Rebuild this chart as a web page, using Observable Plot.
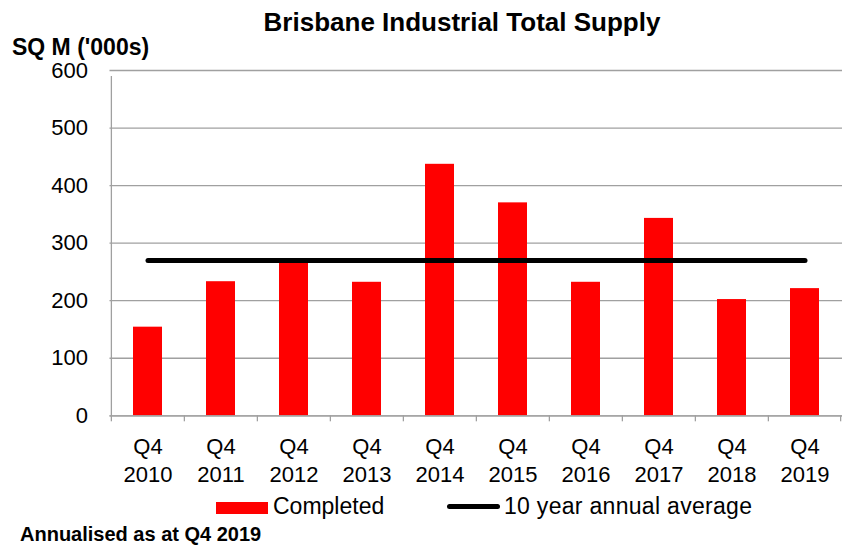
<!DOCTYPE html>
<html>
<head>
<meta charset="utf-8">
<script src="https://cdn.jsdelivr.net/npm/d3@7"></script>
<script src="https://cdn.jsdelivr.net/npm/@observablehq/plot@0.6"></script>
<style>
  body { margin: 0; background: #fff; font-family: "Liberation Sans", Arial, sans-serif; }
  #wrap { position: relative; width: 842px; height: 545px; overflow: hidden; }
  #chart { position: absolute; left: 0; top: 0; }
  .txt { position: absolute; line-height: 1; white-space: nowrap; color: #000; }
</style>
</head>
<body>
<div id="wrap">
  <div id="chart"></div>
  <div class="txt" id="title" style="left:0;width:924px;text-align:center;top:9px;font-size:26px;font-weight:bold;">Brisbane Industrial Total Supply</div>
  <div class="txt" style="left:12px;top:36px;font-size:23px;font-weight:bold;">SQ M ('000s)</div>
  <div class="txt" style="left:216px;top:502px;width:52px;height:12px;background:#ff0000;"></div>
  <div class="txt" style="left:273px;top:495px;font-size:23px;">Completed</div>
  <div class="txt" style="left:447px;top:504px;width:53px;height:5px;background:#000;border-radius:3px;"></div>
  <div class="txt" style="left:504px;top:495px;font-size:23px;letter-spacing:0.3px;">10 year annual average</div>
  <div class="txt" style="left:20px;top:524px;font-size:20px;font-weight:bold;">Annualised as at Q4 2019</div>
</div>
<script>
const years = ["2010","2011","2012","2013","2014","2015","2016","2017","2018","2019"];
const completed = [154, 233, 268, 232, 437, 370, 232, 343, 202, 221];
const average10yr = [270, 270, 270, 270, 270, 270, 270, 270, 270, 270];
const yTicks = [0, 100, 200, 300, 400, 500, 600];
const quarterLabel = "Q4";

const data = years.map((y, i) => ({year: y, completed: completed[i], average: average10yr[i]}));

const W = 842, H = 490, ML = 109.5, MR = 0, MT = 70, MB = 74.7;
const step = (W - ML - MR) / years.length;

const plot = Plot.plot({
  width: W,
  height: H,
  marginLeft: ML,
  marginRight: MR,
  marginTop: MT,
  marginBottom: MB,
  style: {fontFamily: "'Liberation Sans', Arial, sans-serif", fontSize: "22px", color: "#000", background: "#fff"},
  x: {domain: years, padding: 0, label: null},
  y: {domain: [0, 600], label: null},
  marks: [
    Plot.gridY(yTicks, {stroke: "#a0a0a0", strokeOpacity: 1, strokeWidth: 1.3}),
    Plot.axisY(yTicks, {tickSize: 0, tickPadding: 22, fontSize: 22, label: null}),
    Plot.axisX({tickSize: 0, tickPadding: 18, fontSize: 22, lineHeight: 1.28, tickFormat: d => quarterLabel + "\n" + d, label: null}),
    Plot.barY(data, {x: "year", y: "completed", fill: "#ff0000", insetLeft: 22, insetRight: 22}),
    Plot.ruleY([0], {stroke: "#a0a0a0", strokeWidth: 1.3}),
    Plot.ruleX(years, {x: d => d, y1: 0, y2: 0, insetBottom: -6, dx: -step / 2, stroke: "#a0a0a0", strokeWidth: 1.3}),
    Plot.ruleX([years[years.length - 1]], {x: d => d, y1: 0, y2: 0, insetBottom: -6, dx: step / 2 - 1, stroke: "#a0a0a0", strokeWidth: 1.3}),
    Plot.ruleX([years[0]], {x: d => d, y1: 0, y2: 600, insetBottom: -6, dx: -step / 2, stroke: "#a0a0a0", strokeWidth: 1.3}),
    Plot.lineY(data, {x: "year", y: "average", stroke: "#000", strokeWidth: 5, strokeLinecap: "round"})
  ]
});
document.getElementById("chart").appendChild(plot);
</script>
</body>
</html>
